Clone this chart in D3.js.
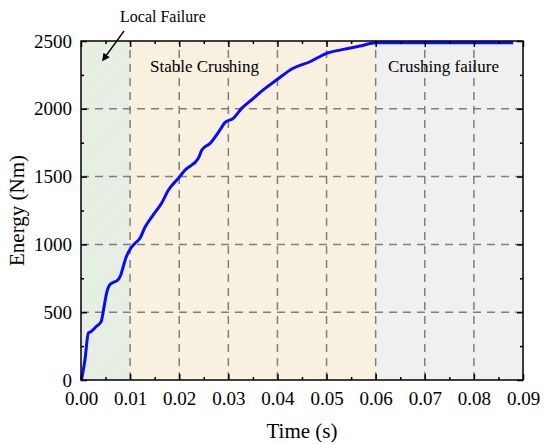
<!DOCTYPE html>
<html>
<head>
<meta charset="utf-8">
<script src="https://cdn.jsdelivr.net/npm/d3@7"></script>
<style>
  body { margin: 0; background: #fff; }
</style>
</head>
<body>
<div id="chart"></div>
<script>
// curve
const timeS = [0.0001, 0.0008, 0.0015, 0.002, 0.0032, 0.0041, 0.0047, 0.0052, 0.0058, 0.0066, 0.0075, 0.0081,
  0.0086, 0.0091, 0.0100, 0.0110, 0.0120, 0.0130, 0.0147, 0.0164, 0.0178, 0.0198, 0.0212, 0.0239, 0.0246,
  0.0263, 0.0283, 0.0293, 0.0310, 0.0327, 0.0351, 0.0371, 0.0398, 0.0432, 0.0466, 0.0500, 0.0534, 0.0568,
  0.0592, 0.0602, 0.0700, 0.0800, 0.0880];
const energyNm = [0, 147, 346, 356, 398, 430, 541, 639, 700, 720, 737, 774,
  836, 897, 964, 1008, 1045, 1125, 1217, 1303, 1401, 1487, 1549, 1635, 1696,
  1746, 1844, 1898, 1930, 2003, 2077, 2139, 2212, 2299, 2347, 2409, 2438, 2463,
  2483, 2488, 2488, 2488, 2488];

const xTicks = [0, 0.01, 0.02, 0.03, 0.04, 0.05, 0.06, 0.07, 0.08, 0.09];
const yTicks = [0, 500, 1000, 1500, 2000, 2500];

// shaded stages
const stages = [
  { name: "Local Failure", from: 0, to: 0.01 },
  { name: "Stable Crushing", from: 0.01, to: 0.06 },
  { name: "Crushing failure", from: 0.06, to: 0.09 }
];
const stageFill = ["url(#hatchGreen)", "url(#hatchOrange)", "#f0f0f0"];

const serif = "Liberation Serif, Times New Roman, serif";
const width = 550, height = 444;
const margin = { top: 41, right: 27, bottom: 64, left: 81 };

const svg = d3.select("#chart").append("svg")
  .attr("width", width)
  .attr("height", height)
  .attr("font-family", serif);

const x = d3.scaleLinear().domain([0, 0.09]).range([margin.left, width - margin.right]);
const y = d3.scaleLinear().domain([0, 2500]).range([height - margin.bottom, margin.top]);

// hatch patterns for the first two zones
const defs = svg.append("defs");
function hatch(id, bg, line) {
  const p = defs.append("pattern")
    .attr("id", id)
    .attr("patternUnits", "userSpaceOnUse")
    .attr("width", 4).attr("height", 4)
    .attr("patternTransform", "rotate(45)");
  p.append("rect").attr("width", 4).attr("height", 4).attr("fill", bg);
  p.append("line").attr("x1", 0).attr("y1", 0).attr("x2", 0).attr("y2", 4)
    .attr("stroke", line).attr("stroke-width", 1);
}
hatch("hatchGreen", "#e8f0e5", "#dde8da");
hatch("hatchOrange", "#faf2e1", "#f5ebd7");

svg.append("g").selectAll("rect")
  .data(stages)
  .enter().append("rect")
  .attr("x", d => x(d.from))
  .attr("y", y(2500))
  .attr("width", d => x(d.to) - x(d.from))
  .attr("height", y(0) - y(2500))
  .attr("fill", (d, i) => stageFill[i]);

// dashed grid
const grid = svg.append("g")
  .attr("stroke", "#7f7f7f")
  .attr("stroke-width", 1.5)
  .attr("stroke-dasharray", "8,6");
grid.selectAll(".gx").data(xTicks.slice(1, -1)).enter().append("line")
  .attr("x1", d => x(d)).attr("x2", d => x(d))
  .attr("y1", y(0)).attr("y2", y(2500));
grid.selectAll(".gy").data(yTicks.slice(1, -1)).enter().append("line")
  .attr("x1", x(0)).attr("x2", x(0.09))
  .attr("y1", d => y(d)).attr("y2", d => y(d));

// curve
svg.append("path")
  .datum(timeS.map((t, i) => [t, energyNm[i]]))
  .attr("fill", "none")
  .attr("stroke", "#0a0aff")
  .attr("stroke-width", 3)
  .attr("stroke-linejoin", "round")
  .attr("d", d3.line().x(d => x(d[0])).y(d => y(d[1])).curve(d3.curveMonotoneX));

// axes with inward ticks, mirrored on top and right
const xMinor = d3.range(0.005, 0.09, 0.01);
const yMinor = d3.range(250, 2500, 500);

function axisStyle(g) {
  g.attr("font-family", serif);
  g.select(".domain").remove();
  g.selectAll("line").attr("stroke", "#000").attr("stroke-width", 1.5);
}

const xAxis = svg.append("g").attr("transform", `translate(0,${y(0)})`)
  .call(d3.axisBottom(x).tickValues(xTicks).tickSize(-6).tickPadding(12).tickFormat(d3.format(".2f")))
  .call(axisStyle);
xAxis.selectAll("text").attr("font-size", 19).attr("fill", "#000");
svg.append("g").attr("transform", `translate(0,${y(0)})`)
  .call(d3.axisBottom(x).tickValues(xMinor).tickSize(-3).tickFormat(""))
  .call(axisStyle);

svg.append("g").attr("transform", `translate(0,${y(2500)})`)
  .call(d3.axisTop(x).tickValues(xTicks).tickSize(-6).tickFormat(""))
  .call(axisStyle);
svg.append("g").attr("transform", `translate(0,${y(2500)})`)
  .call(d3.axisTop(x).tickValues(xMinor).tickSize(-3).tickFormat(""))
  .call(axisStyle);

const yAxis = svg.append("g").attr("transform", `translate(${x(0)},0)`)
  .call(d3.axisLeft(y).tickValues(yTicks).tickSize(-6).tickPadding(9).tickFormat(d3.format("d")))
  .call(axisStyle);
yAxis.selectAll("text").attr("font-size", 19).attr("fill", "#000");
svg.append("g").attr("transform", `translate(${x(0)},0)`)
  .call(d3.axisLeft(y).tickValues(yMinor).tickSize(-3).tickFormat(""))
  .call(axisStyle);

svg.append("g").attr("transform", `translate(${x(0.09)},0)`)
  .call(d3.axisRight(y).tickValues(yTicks).tickSize(-6).tickFormat(""))
  .call(axisStyle);
svg.append("g").attr("transform", `translate(${x(0.09)},0)`)
  .call(d3.axisRight(y).tickValues(yMinor).tickSize(-3).tickFormat(""))
  .call(axisStyle);

// frame
svg.append("rect")
  .attr("x", x(0)).attr("y", y(2500))
  .attr("width", x(0.09) - x(0)).attr("height", y(0) - y(2500))
  .attr("fill", "none").attr("stroke", "#000").attr("stroke-width", 1.5);

// axis titles
svg.append("text")
  .attr("x", (x(0) + x(0.09)) / 2).attr("y", 438)
  .attr("text-anchor", "middle").attr("font-size", 21)
  .text("Time (s)");
svg.append("text")
  .attr("transform", `translate(24,${(y(0) + y(2500)) / 2}) rotate(-90)`)
  .attr("text-anchor", "middle").attr("font-size", 21)
  .text("Energy (Nm)");

// stage labels
svg.append("text").attr("x", 120).attr("y", 22).attr("font-size", 16).text(stages[0].name);
svg.append("text").attr("x", 150).attr("y", 72).attr("font-size", 17).text(stages[1].name);
svg.append("text").attr("x", 388).attr("y", 72).attr("font-size", 17).text(stages[2].name);

// arrow pointing into the first zone
defs.append("marker")
  .attr("id", "arrowHead")
  .attr("viewBox", "0 0 10 10")
  .attr("refX", 8).attr("refY", 5)
  .attr("markerWidth", 6).attr("markerHeight", 6)
  .attr("orient", "auto")
  .append("path").attr("d", "M0,0 L10,5 L0,10 z").attr("fill", "#000");
svg.append("line")
  .attr("x1", 124).attr("y1", 31).attr("x2", 103).attr("y2", 60)
  .attr("stroke", "#000").attr("stroke-width", 1.3)
  .attr("marker-end", "url(#arrowHead)");
</script>
</body>
</html>
